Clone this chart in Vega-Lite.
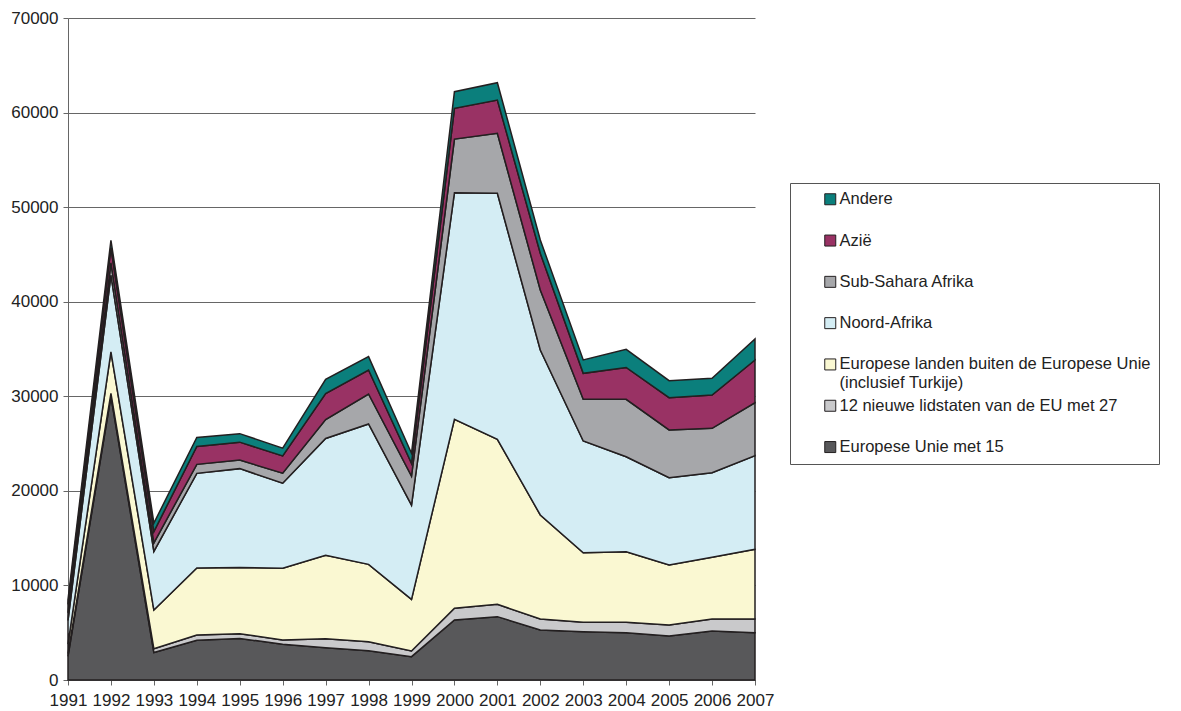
{
  "$schema": "https://vega.github.io/schema/vega-lite/v6.json",
  "autosize": "none",
  "width": 687,
  "height": 662,
  "padding": {"left": 68, "top": 18, "right": 426, "bottom": 31},
  "background": "white",
  "config": {
    "font": "Liberation Sans",
    "view": {"stroke": null},
    "axis": {"labelFont": "Liberation Sans", "labelFontSize": 17, "labelColor": "#222", "domainColor": "#666", "tickColor": "#666", "tickSize": 5, "title": null}
  },
  "datasets": {
    "flows": [
      {"year": 1991, "region": "Europese Unie met 15", "value": 2500},
      {"year": 1991, "region": "12 nieuwe lidstaten van de EU met 27", "value": 300},
      {"year": 1991, "region": "Europese landen buiten de Europese Unie (inclusief Turkije)", "value": 1000},
      {"year": 1991, "region": "Noord-Afrika", "value": 2500},
      {"year": 1991, "region": "Sub-Sahara Afrika", "value": 800},
      {"year": 1991, "region": "Azië", "value": 900},
      {"year": 1991, "region": "Andere", "value": 500},
      {"year": 1992, "region": "Europese Unie met 15", "value": 30000},
      {"year": 1992, "region": "12 nieuwe lidstaten van de EU met 27", "value": 300},
      {"year": 1992, "region": "Europese landen buiten de Europese Unie (inclusief Turkije)", "value": 4400},
      {"year": 1992, "region": "Noord-Afrika", "value": 8100},
      {"year": 1992, "region": "Sub-Sahara Afrika", "value": 1300},
      {"year": 1992, "region": "Azië", "value": 1600},
      {"year": 1992, "region": "Andere", "value": 800},
      {"year": 1993, "region": "Europese Unie met 15", "value": 2900},
      {"year": 1993, "region": "12 nieuwe lidstaten van de EU met 27", "value": 400},
      {"year": 1993, "region": "Europese landen buiten de Europese Unie (inclusief Turkije)", "value": 4100},
      {"year": 1993, "region": "Noord-Afrika", "value": 6200},
      {"year": 1993, "region": "Sub-Sahara Afrika", "value": 900},
      {"year": 1993, "region": "Azië", "value": 1200},
      {"year": 1993, "region": "Andere", "value": 900},
      {"year": 1994, "region": "Europese Unie met 15", "value": 4200},
      {"year": 1994, "region": "12 nieuwe lidstaten van de EU met 27", "value": 550},
      {"year": 1994, "region": "Europese landen buiten de Europese Unie (inclusief Turkije)", "value": 7100},
      {"year": 1994, "region": "Noord-Afrika", "value": 10000},
      {"year": 1994, "region": "Sub-Sahara Afrika", "value": 950},
      {"year": 1994, "region": "Azië", "value": 1900},
      {"year": 1994, "region": "Andere", "value": 950},
      {"year": 1995, "region": "Europese Unie met 15", "value": 4400},
      {"year": 1995, "region": "12 nieuwe lidstaten van de EU met 27", "value": 500},
      {"year": 1995, "region": "Europese landen buiten de Europese Unie (inclusief Turkije)", "value": 7000},
      {"year": 1995, "region": "Noord-Afrika", "value": 10450},
      {"year": 1995, "region": "Sub-Sahara Afrika", "value": 900},
      {"year": 1995, "region": "Azië", "value": 1900},
      {"year": 1995, "region": "Andere", "value": 900},
      {"year": 1996, "region": "Europese Unie met 15", "value": 3770},
      {"year": 1996, "region": "12 nieuwe lidstaten van de EU met 27", "value": 460},
      {"year": 1996, "region": "Europese landen buiten de Europese Unie (inclusief Turkije)", "value": 7580},
      {"year": 1996, "region": "Noord-Afrika", "value": 9000},
      {"year": 1996, "region": "Sub-Sahara Afrika", "value": 1060},
      {"year": 1996, "region": "Azië", "value": 1830},
      {"year": 1996, "region": "Andere", "value": 810},
      {"year": 1997, "region": "Europese Unie met 15", "value": 3400},
      {"year": 1997, "region": "12 nieuwe lidstaten van de EU met 27", "value": 950},
      {"year": 1997, "region": "Europese landen buiten de Europese Unie (inclusief Turkije)", "value": 8850},
      {"year": 1997, "region": "Noord-Afrika", "value": 12340},
      {"year": 1997, "region": "Sub-Sahara Afrika", "value": 2000},
      {"year": 1997, "region": "Azië", "value": 2750},
      {"year": 1997, "region": "Andere", "value": 1500},
      {"year": 1998, "region": "Europese Unie met 15", "value": 3100},
      {"year": 1998, "region": "12 nieuwe lidstaten van de EU met 27", "value": 950},
      {"year": 1998, "region": "Europese landen buiten de Europese Unie (inclusief Turkije)", "value": 8180},
      {"year": 1998, "region": "Noord-Afrika", "value": 14840},
      {"year": 1998, "region": "Sub-Sahara Afrika", "value": 3170},
      {"year": 1998, "region": "Azië", "value": 2540},
      {"year": 1998, "region": "Andere", "value": 1410},
      {"year": 1999, "region": "Europese Unie met 15", "value": 2470},
      {"year": 1999, "region": "12 nieuwe lidstaten van de EU met 27", "value": 600},
      {"year": 1999, "region": "Europese landen buiten de Europese Unie (inclusief Turkije)", "value": 5460},
      {"year": 1999, "region": "Noord-Afrika", "value": 9970},
      {"year": 1999, "region": "Sub-Sahara Afrika", "value": 3070},
      {"year": 1999, "region": "Azië", "value": 1340},
      {"year": 1999, "region": "Andere", "value": 1060},
      {"year": 2000, "region": "Europese Unie met 15", "value": 6340},
      {"year": 2000, "region": "12 nieuwe lidstaten van de EU met 27", "value": 1240},
      {"year": 2000, "region": "Europese landen buiten de Europese Unie (inclusief Turkije)", "value": 19990},
      {"year": 2000, "region": "Noord-Afrika", "value": 23960},
      {"year": 2000, "region": "Sub-Sahara Afrika", "value": 5670},
      {"year": 2000, "region": "Azië", "value": 3250},
      {"year": 2000, "region": "Andere", "value": 1760},
      {"year": 2001, "region": "Europese Unie met 15", "value": 6700},
      {"year": 2001, "region": "12 nieuwe lidstaten van de EU met 27", "value": 1300},
      {"year": 2001, "region": "Europese landen buiten de Europese Unie (inclusief Turkije)", "value": 17450},
      {"year": 2001, "region": "Noord-Afrika", "value": 26010},
      {"year": 2001, "region": "Sub-Sahara Afrika", "value": 6340},
      {"year": 2001, "region": "Azië", "value": 3530},
      {"year": 2001, "region": "Andere", "value": 1830},
      {"year": 2002, "region": "Europese Unie met 15", "value": 5290},
      {"year": 2002, "region": "12 nieuwe lidstaten van de EU met 27", "value": 1160},
      {"year": 2002, "region": "Europese landen buiten de Europese Unie (inclusief Turkije)", "value": 11000},
      {"year": 2002, "region": "Noord-Afrika", "value": 17450},
      {"year": 2002, "region": "Sub-Sahara Afrika", "value": 6340},
      {"year": 2002, "region": "Azië", "value": 3880},
      {"year": 2002, "region": "Andere", "value": 1410},
      {"year": 2003, "region": "Europese Unie met 15", "value": 5100},
      {"year": 2003, "region": "12 nieuwe lidstaten van de EU met 27", "value": 1000},
      {"year": 2003, "region": "Europese landen buiten de Europese Unie (inclusief Turkije)", "value": 7360},
      {"year": 2003, "region": "Noord-Afrika", "value": 11810},
      {"year": 2003, "region": "Sub-Sahara Afrika", "value": 4410},
      {"year": 2003, "region": "Azië", "value": 2750},
      {"year": 2003, "region": "Andere", "value": 1410},
      {"year": 2004, "region": "Europese Unie met 15", "value": 5000},
      {"year": 2004, "region": "12 nieuwe lidstaten van de EU met 27", "value": 1100},
      {"year": 2004, "region": "Europese landen buiten de Europese Unie (inclusief Turkije)", "value": 7470},
      {"year": 2004, "region": "Noord-Afrika", "value": 10040},
      {"year": 2004, "region": "Sub-Sahara Afrika", "value": 6070},
      {"year": 2004, "region": "Azië", "value": 3370},
      {"year": 2004, "region": "Andere", "value": 1920},
      {"year": 2005, "region": "Europese Unie met 15", "value": 4650},
      {"year": 2005, "region": "12 nieuwe lidstaten van de EU met 27", "value": 1170},
      {"year": 2005, "region": "Europese landen buiten de Europese Unie (inclusief Turkije)", "value": 6340},
      {"year": 2005, "region": "Noord-Afrika", "value": 9230},
      {"year": 2005, "region": "Sub-Sahara Afrika", "value": 5050},
      {"year": 2005, "region": "Azië", "value": 3410},
      {"year": 2005, "region": "Andere", "value": 1800},
      {"year": 2006, "region": "Europese Unie met 15", "value": 5180},
      {"year": 2006, "region": "12 nieuwe lidstaten van de EU met 27", "value": 1270},
      {"year": 2006, "region": "Europese landen buiten de Europese Unie (inclusief Turkije)", "value": 6520},
      {"year": 2006, "region": "Noord-Afrika", "value": 8950},
      {"year": 2006, "region": "Sub-Sahara Afrika", "value": 4690},
      {"year": 2006, "region": "Azië", "value": 3530},
      {"year": 2006, "region": "Andere", "value": 1760},
      {"year": 2007, "region": "Europese Unie met 15", "value": 5000},
      {"year": 2007, "region": "12 nieuwe lidstaten van de EU met 27", "value": 1450},
      {"year": 2007, "region": "Europese landen buiten de Europese Unie (inclusief Turkije)", "value": 7370},
      {"year": 2007, "region": "Noord-Afrika", "value": 9900},
      {"year": 2007, "region": "Sub-Sahara Afrika", "value": 5600},
      {"year": 2007, "region": "Azië", "value": 4520},
      {"year": 2007, "region": "Andere", "value": 2220}
    ]
  },
  "data": {"name": "flows"},
  "transform": [
    {"calculate": "indexof(['Europese Unie met 15','12 nieuwe lidstaten van de EU met 27','Europese landen buiten de Europese Unie (inclusief Turkije)','Noord-Afrika','Sub-Sahara Afrika','Azië','Andere'], datum.region)", "as": "stackorder"}
  ],
  "mark": {"type": "area", "stroke": "#231f20", "strokeWidth": 1.5, "strokeJoin": "miter", "fillOpacity": 1},
  "encoding": {
    "x": {
      "field": "year", "type": "quantitative",
      "scale": {"domain": [1991, 2007], "nice": false, "zero": false},
      "axis": {"values": [1991,1992,1993,1994,1995,1996,1997,1998,1999,2000,2001,2002,2003,2004,2005,2006,2007], "format": "d", "grid": false, "labelPadding": 7, "labelFlush": false, "labelOverlap": false}
    },
    "y": {
      "field": "value", "type": "quantitative", "stack": "zero",
      "scale": {"domain": [0, 70000], "nice": false},
      "axis": {"values": [0,10000,20000,30000,40000,50000,60000,70000], "format": "d", "grid": true, "gridColor": "#666", "gridWidth": 1, "labelPadding": 5}
    },
    "order": {"field": "stackorder", "type": "quantitative", "sort": "ascending"},
    "color": {
      "field": "region", "type": "nominal",
      "scale": {
        "domain": ["Andere", "Azië", "Sub-Sahara Afrika", "Noord-Afrika", "Europese landen buiten de Europese Unie (inclusief Turkije)", "12 nieuwe lidstaten van de EU met 27", "Europese Unie met 15"],
        "range": ["#0b7f7c", "#993264", "#a6a7aa", "#d4edf4", "#faf8d2", "#c9c9cb", "#58585a"]
      },
      "legend": {
        "orient": "none", "legendX": 722, "legendY": 165,
        "title": null,
        "strokeColor": "#555", "padding": 8,
        "gridAlign": "all",
        "symbolType": "square", "symbolSize": 121, "symbolStrokeColor": "#231f20", "symbolStrokeWidth": 1, "symbolOpacity": 1,
        "symbolOffset": 24,
        "labelFont": "Liberation Sans", "labelFontSize": 16.5, "labelColor": "#222", "labelLimit": 400, "labelOffset": 1,
        "rowPadding": 5.3,
        "labelExpr": "datum.label == 'Europese landen buiten de Europese Unie (inclusief Turkije)' ? ['Europese landen buiten de Europese Unie', '(inclusief Turkije)'] : datum.label"
      }
    }
  }
}
